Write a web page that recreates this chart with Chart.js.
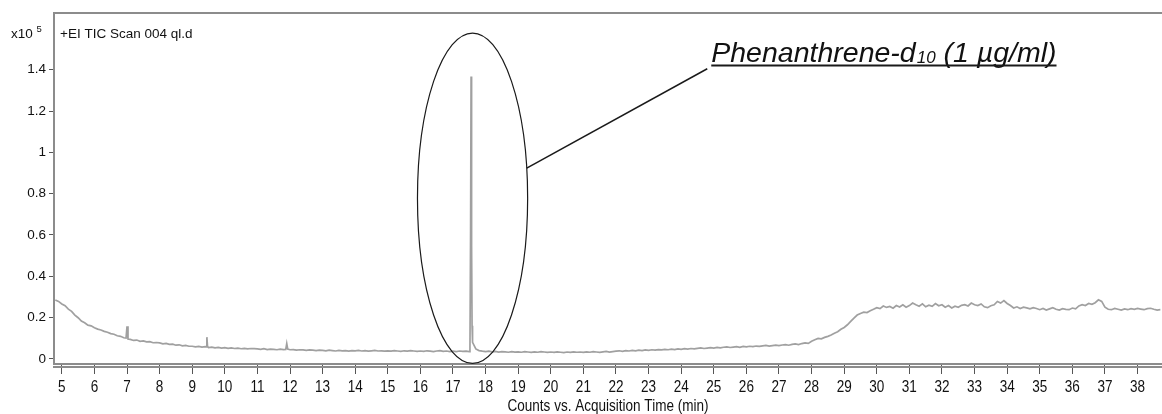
<!DOCTYPE html>
<html>
<head>
<meta charset="utf-8">
<script src="https://cdn.jsdelivr.net/npm/chart.js@4"></script>
<style>
  html, body { margin: 0; padding: 0; background: #fff; }
  #wrap { width: 1162px; height: 414px; position: relative; }
</style>
</head>
<body>
<div id="wrap"><canvas id="tic"></canvas></div>
<script>
// TIC trace, counts in units of 1e5, sampled every 0.1 min from 4.8 min
const scanStart = 4.8;
const scanStep = 0.1;
const ticCounts = [
  0.285, 0.278,
  0.266, 0.257, 0.241, 0.230, 0.212, 0.199, 0.183, 0.175, 0.163, 0.160, // 5
  0.151, 0.144, 0.140, 0.133, 0.129, 0.122, 0.119, 0.112, 0.109, 0.102, // 6
  0.158, 0.094, 0.089, 0.091, 0.085, 0.087, 0.082, 0.083, 0.078, 0.079, // 7
  0.077, 0.073, 0.075, 0.070, 0.071, 0.066, 0.068, 0.063, 0.065, 0.061, // 8
  0.061, 0.058, 0.060, 0.057, 0.059, 0.055, 0.057, 0.053, 0.055, 0.052, // 9
  0.054, 0.051, 0.053, 0.050, 0.052, 0.049, 0.051, 0.048, 0.050, 0.049, // 10
  0.048, 0.046, 0.049, 0.045, 0.047, 0.046, 0.044, 0.047, 0.045, 0.074, // 11
  0.044, 0.045, 0.042, 0.044, 0.043, 0.041, 0.043, 0.042, 0.040, 0.042, // 12
  0.041, 0.039, 0.042, 0.040, 0.038, 0.041, 0.039, 0.040, 0.037, 0.040, // 13
  0.039, 0.041, 0.038, 0.040, 0.037, 0.039, 0.041, 0.038, 0.039, 0.037, // 14
  0.039, 0.037, 0.040, 0.038, 0.036, 0.039, 0.037, 0.040, 0.038, 0.036, // 15
  0.038, 0.036, 0.039, 0.037, 0.035, 0.038, 0.040, 0.036, 0.038, 0.035, // 16
  0.037, 0.035, 0.038, 0.036, 0.037, 0.035, 0.080, 0.048, 0.040, 0.037, // 17
  0.035, 0.037, 0.034, 0.036, 0.033, 0.035, 0.034, 0.032, 0.035, 0.033, // 18
  0.034, 0.032, 0.035, 0.033, 0.031, 0.034, 0.032, 0.035, 0.033, 0.031, // 19
  0.033, 0.031, 0.034, 0.032, 0.030, 0.033, 0.031, 0.034, 0.032, 0.033, // 20
  0.031, 0.034, 0.032, 0.035, 0.033, 0.031, 0.034, 0.036, 0.033, 0.035, // 21
  0.037, 0.039, 0.036, 0.040, 0.038, 0.041, 0.039, 0.042, 0.040, 0.043, // 22
  0.041, 0.044, 0.042, 0.045, 0.043, 0.046, 0.044, 0.047, 0.045, 0.048, // 23
  0.046, 0.049, 0.047, 0.050, 0.048, 0.051, 0.053, 0.050, 0.052, 0.054, // 24
  0.052, 0.055, 0.053, 0.056, 0.058, 0.055, 0.057, 0.059, 0.056, 0.060, // 25
  0.058, 0.061, 0.059, 0.062, 0.060, 0.063, 0.065, 0.062, 0.064, 0.066, // 26
  0.064, 0.067, 0.069, 0.066, 0.070, 0.072, 0.069, 0.074, 0.077, 0.075, // 27
  0.085, 0.092, 0.099, 0.097, 0.104, 0.109, 0.115, 0.124, 0.131, 0.143, // 28
  0.152, 0.165, 0.181, 0.197, 0.212, 0.220, 0.226, 0.224, 0.233, 0.240, // 29
  0.248, 0.243, 0.256, 0.249, 0.254, 0.245, 0.258, 0.251, 0.262, 0.250, // 30
  0.258, 0.270, 0.262, 0.255, 0.266, 0.252, 0.260, 0.254, 0.268, 0.257, // 31
  0.262, 0.250, 0.258, 0.246, 0.255, 0.250, 0.259, 0.262, 0.256, 0.270, // 32
  0.262, 0.258, 0.266, 0.252, 0.248, 0.257, 0.262, 0.278, 0.270, 0.282, // 33
  0.268, 0.258, 0.246, 0.252, 0.244, 0.250, 0.247, 0.242, 0.248, 0.244, // 34
  0.238, 0.244, 0.236, 0.242, 0.248, 0.240, 0.236, 0.243, 0.240, 0.238, // 35
  0.246, 0.242, 0.256, 0.262, 0.258, 0.268, 0.264, 0.272, 0.286, 0.278, // 36
  0.250, 0.240, 0.238, 0.244, 0.240, 0.236, 0.242, 0.238, 0.243, 0.240, // 37
  0.244, 0.241, 0.238, 0.243, 0.245, 0.240, 0.236, 0.238              // 38
];

// extra samples around the sharp peaks (minutes / counts x1e5)
const peakTimes  = [6.97, 7.03, 9.43, 9.45, 9.47, 11.87, 11.93, 17.52, 17.54, 17.555, 17.57, 17.585];
const peakCounts = [0.101, 0.096, 0.058, 0.105, 0.060, 0.046, 0.047, 0.045, 0.62, 1.367, 0.55, 0.16];

const xTicks = [5, 6, 7, 8, 9, 10, 11, 12, 13, 14, 15, 16, 17, 18, 19, 20, 21, 22, 23, 24, 25, 26, 27, 28, 29, 30, 31, 32, 33, 34, 35, 36, 37, 38];
const yTicks = [0, 0.2, 0.4, 0.6, 0.8, 1, 1.2, 1.4];

const traceLabel = '+EI TIC Scan 004 ql.d';
const xTitle = 'Counts vs. Acquisition Time (min)';
const peakName = 'Phenanthrene-d';
const peakSub = '10';
const peakConc = ' (1 µg/ml)';

const trace = ticCounts.map((c, i) => ({ x: +(scanStart + i * scanStep).toFixed(2), y: c }));
peakTimes.forEach((t, i) => trace.push({ x: t, y: peakCounts[i] }));
trace.sort((a, b) => a.x - b.x);

const sans = '"Liberation Sans", Arial, sans-serif';

// condensed text for the time axis (no narrow face installed)
function narrowText(ctx, str, x, y, size) {
  ctx.save();
  ctx.font = size + 'px ' + sans;
  ctx.textAlign = 'center';
  ctx.translate(x, y);
  ctx.scale(0.82, 1);
  ctx.fillText(str, 0, 0);
  ctx.restore();
}

// frame, axis labels, ellipse around the peak and its callout
const overlay = {
  id: 'overlay',
  afterDraw(chart) {
    const { ctx, chartArea: a, scales: { x, y } } = chart;
    ctx.save();
    ctx.strokeStyle = '#8c8c8c';
    ctx.lineWidth = 2;
    ctx.beginPath();
    ctx.moveTo(a.left - 1, a.top);
    ctx.lineTo(a.right, a.top);
    ctx.moveTo(a.left - 1, a.bottom + 3);
    ctx.lineTo(a.right, a.bottom + 3);
    ctx.stroke();

    ctx.fillStyle = '#111';
    ctx.textBaseline = 'alphabetic';
    x.ticks.forEach(t => narrowText(ctx, String(t.value), x.getPixelForValue(t.value), 391.5, 16.5));
    narrowText(ctx, xTitle, (a.left + a.right) / 2, 411, 16.5);

    ctx.font = '13.5px ' + sans;
    ctx.fillText('x10', 11, 37.5);
    ctx.font = '9.5px ' + sans;
    ctx.fillText('5', 36.5, 31.5);
    ctx.font = '13.5px ' + sans;
    ctx.fillText(traceLabel, a.left + 6, 37.5);

    // ellipse
    const cx = x.getPixelForValue(17.6), cy = y.getPixelForValue(0.778);
    const rx = x.getPixelForValue(17.6 + 1.69) - cx;
    const ry = cy - y.getPixelForValue(0.778 + 0.8);
    ctx.strokeStyle = '#1a1a1a';
    ctx.lineWidth = 1.2;
    ctx.beginPath();
    ctx.ellipse(cx, cy, rx, ry, 0, 0, Math.PI * 2);
    ctx.stroke();

    // callout line
    const sy = cy - 30;
    const sx = cx + rx * Math.sqrt(1 - (30 / ry) * (30 / ry));
    const ex = x.getPixelForValue(24.8), ey = y.getPixelForValue(1.405);
    ctx.lineWidth = 1.5;
    ctx.beginPath();
    ctx.moveTo(sx, sy);
    ctx.lineTo(ex, ey);
    ctx.stroke();

    // peak label
    const tx = ex + 4, ty = y.getPixelForValue(1.44);
    ctx.font = 'italic 28.5px ' + sans;
    ctx.fillText(peakName, tx, ty);
    let w = ctx.measureText(peakName).width;
    ctx.font = 'italic 17px ' + sans;
    ctx.fillText(peakSub, tx + w + 1, ty + 1);
    w += ctx.measureText(peakSub).width + 1;
    ctx.font = 'italic 28.5px ' + sans;
    ctx.fillText(peakConc, tx + w, ty);
    w += ctx.measureText(peakConc).width;
    ctx.lineWidth = 2;
    ctx.beginPath();
    ctx.moveTo(tx, ty + 4);
    ctx.lineTo(tx + w, ty + 4);
    ctx.stroke();
    ctx.restore();
  }
};

new Chart(document.getElementById('tic'), {
  type: 'line',
  data: {
    datasets: [{
      data: trace,
      borderColor: '#a0a0a0',
      borderWidth: 1.7,
      pointRadius: 0,
      tension: 0
    }]
  },
  options: {
    responsive: true,
    maintainAspectRatio: false,
    animation: false,
    devicePixelRatio: 1,
    layout: { padding: { top: 13, left: 0, right: 0, bottom: 0 } },
    plugins: { legend: { display: false }, tooltip: { enabled: false } },
    scales: {
      x: {
        type: 'linear',
        min: 4.76,
        max: 38.75,
        afterFit: s => { s.height = 50; },
        afterBuildTicks: s => { s.ticks = xTicks.map(v => ({ value: v })); },
        ticks: { display: false },
        grid: { drawOnChartArea: false, drawTicks: true, tickLength: 10, color: '#555' },
        border: { color: '#8c8c8c', width: 2 }
      },
      y: {
        min: -0.025,
        max: 1.675,
        afterFit: s => { s.width = 54; },
        afterBuildTicks: s => { s.ticks = yTicks.map(v => ({ value: v })); },
        ticks: {
          font: { family: sans, size: 13.5 },
          color: '#111',
          padding: 3,
          callback: v => (Number.isInteger(v) ? String(v) : v.toFixed(1))
        },
        grid: { drawOnChartArea: false, drawTicks: true, tickLength: 5, color: '#555' },
        border: { color: '#8c8c8c', width: 2 }
      }
    }
  },
  plugins: [overlay]
});
</script>
</body>
</html>
